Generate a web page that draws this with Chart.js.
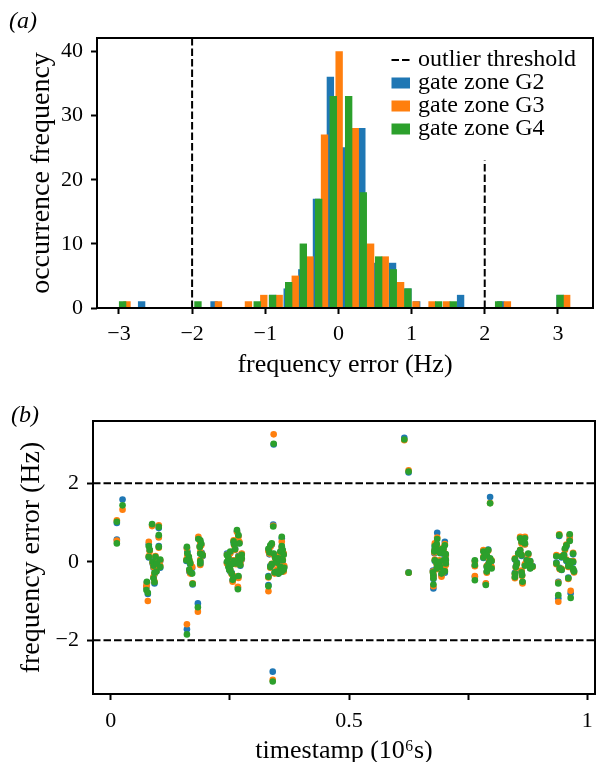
<!DOCTYPE html>
<html>
<head>
<meta charset="utf-8">
<title>Frequency error per gate zone</title>
<script src="https://cdn.jsdelivr.net/npm/chart.js@4.4.1/dist/chart.umd.min.js"></script>
<style>
  html, body { margin: 0; padding: 0; background: #fff; }
  canvas { display: block; }
</style>
</head>
<body>
<canvas id="histChart" width="596" height="380"></canvas>
<canvas id="timeChart" width="596" height="382"></canvas>
<script>
// (a) histogram: bar centre (Hz) and count for each gate zone
const histG2Hz    = [-2.69, -1.70, -0.90, -0.70, -0.50, -0.30, -0.11, 0.10, 0.32, 0.53, 0.74, 0.95, 1.07, 1.67, 2.22, 3.03];
const histG2Count = [1, 1, 2, 3, 6, 17, 36, 25, 28, 7, 7, 3, 1, 2, 1, 2];
const histG3Hz    = [-2.89, -1.64, -1.23, -1.02, -0.81, -0.59, -0.39, -0.19, 0.01, 0.23, 0.44, 0.64, 0.85, 1.06, 1.28, 1.48, 2.31, 3.12];
const histG3Count = [1, 1, 1, 2, 2, 5, 8, 27, 40, 28, 10, 8, 4, 1, 1, 1, 1, 2];
const histG4Hz    = [-2.95, -1.92, -1.11, -0.90, -0.68, -0.48, -0.27, -0.07, 0.14, 0.34, 0.55, 0.75, 0.95, 1.37, 1.57, 2.19, 3.03];
const histG4Count = [1, 1, 1, 2, 4, 10, 17, 33, 33, 18, 8, 6, 3, 1, 1, 1, 2];

const thresholdHz = [-2, 2];
const thresholdReach = [45, 23];   // how high each threshold line goes in (a)
const histTicksX = [-3, -2, -1, 0, 1, 2, 3];
const histTicksY = [0, 10, 20, 30, 40];

// (b) frequency error against timestamp (10^6 s), one value per gate zone
const stamps = [
  0.013, 0.013, 0.025,
  0.076, 0.075, 0.078, 0.080, 0.082, 0.080, 0.087, 0.088, 0.090, 0.090, 0.092, 0.092, 0.094, 0.096, 0.097, 0.101, 0.101, 0.101, 0.104, 0.104,
  0.160, 0.161, 0.164, 0.159, 0.165, 0.167, 0.165, 0.167, 0.171, 0.172, 0.160, 0.183, 0.184, 0.188, 0.187, 0.190, 0.188, 0.191, 0.193, 0.188, 0.188,
  0.244, 0.247, 0.251, 0.244, 0.247, 0.249, 0.251, 0.254, 0.256, 0.258, 0.258, 0.259, 0.261, 0.263, 0.265, 0.268, 0.270, 0.268, 0.272, 0.275, 0.275, 0.272, 0.268, 0.267, 0.258, 0.254,
  0.342, 0.340, 0.341, 0.331, 0.335, 0.338, 0.333, 0.331, 0.331, 0.335, 0.338, 0.342, 0.345, 0.344, 0.349, 0.347, 0.349, 0.352, 0.356, 0.356, 0.359, 0.359, 0.361, 0.363, 0.361, 0.363, 0.364, 0.359, 0.352,
  0.616, 0.625, 0.625,
  0.685, 0.701, 0.680, 0.684, 0.680, 0.679, 0.687, 0.691, 0.694, 0.698, 0.700, 0.703, 0.680, 0.684, 0.690, 0.691, 0.698, 0.703, 0.703, 0.701, 0.698, 0.694, 0.676, 0.677, 0.677, 0.677, 0.684,
  0.796, 0.764, 0.764, 0.764, 0.782, 0.785, 0.792, 0.782, 0.789, 0.796, 0.794, 0.792, 0.789, 0.799, 0.799, 0.789, 0.787,
  0.859, 0.869, 0.862, 0.869, 0.859, 0.855, 0.862, 0.848, 0.852, 0.850, 0.848, 0.848, 0.862, 0.863, 0.864, 0.876, 0.880, 0.876, 0.880, 0.885, 0.873, 0.869,
  0.941, 0.963, 0.963, 0.956, 0.953, 0.935, 0.946, 0.951, 0.956, 0.963, 0.970, 0.970, 0.935, 0.942, 0.946, 0.960, 0.963, 0.970, 0.972, 0.960, 0.939, 0.939, 0.965
];
const errG2 = [
  0.99, 0.57, 1.59,
  -0.53, -0.64, -0.82, 0.45, 0.30, 0.11, 0.94, -0.04, -0.15, -0.40, -0.55, -0.32, 0.10, -0.24, -0.05, 0.86, 0.64, 0.40, 0.02, -0.15,
  0.36, 0.26, 0.10, 0.02, 0.00, -0.06, -0.25, -0.28, -0.16, -0.58, -1.72, -1.06, 0.60, 0.52, 0.40, 0.44, 0.21, 0.23, 0.15, 0.00, -0.06,
  0.21, 0.12, 0.24, -0.02, -0.10, -0.20, -0.25, -0.28, -0.48, -0.38, 0.50, 0.44, 0.34, -0.02, 0.78, 0.66, 0.48, 0.15, 0.02, 0.20, 0.06, -0.10, -0.38, -0.66, 0.04, -0.04,
  2.99, -2.80, 0.95, 0.30, 0.40, 0.44, 0.19, -0.59, -0.36, -0.10, -0.08, 0.20, 0.13, -0.28, -0.22, 0.02, -0.02, 0.09, 0.24, -0.10, 0.60, 0.38, 0.28, 0.20, 0.02, -0.22, -0.13, -0.25, -0.30,
  3.16, 2.28, -0.27,
  0.74, 0.51, 0.42, 0.40, 0.34, 0.22, 0.28, 0.24, 0.30, 0.32, 0.18, 0.16, 0.02, -0.02, 0.02, -0.10, 0.00, 0.02, -0.06, -0.28, -0.22, -0.34, -0.22, -0.36, -0.44, -0.68, -0.15,
  1.65, 0.02, -0.10, -0.38, 0.28, 0.18, 0.31, 0.10, 0.15, 0.07, -0.02, -0.06, -0.13, -0.15, 0.02, -0.26, -0.56,
  0.62, 0.62, 0.49, 0.45, 0.28, 0.22, 0.15, 0.06, -0.02, -0.12, -0.28, -0.40, -0.25, -0.33, -0.52, 0.20, 0.02, -0.03, -0.16, -0.11, 0.06, -0.08,
  0.66, 0.66, 0.55, 0.40, 0.32, 0.15, 0.11, 0.18, 0.02, -0.02, 0.19, -0.02, -0.02, -0.15, -0.21, -0.10, -0.06, -0.21, -0.23, -0.40, -0.51, -0.93, -0.80
];
const errG3 = [
  1.06, 0.54, 1.33,
  -0.55, -0.62, -1.00, 0.51, 0.27, 0.15, 0.91, -0.02, -0.13, -0.38, -0.50, -0.30, 0.15, -0.20, -0.02, 0.93, 0.62, 0.36, 0.04, -0.10,
  0.34, 0.17, 0.12, 0.06, 0.05, -0.02, -0.22, -0.30, -0.13, -0.55, -1.59, -1.27, 0.64, 0.50, 0.38, 0.42, 0.25, 0.20, 0.17, 0.05, -0.08,
  0.18, 0.13, 0.22, -0.04, -0.08, -0.18, -0.22, -0.32, -0.51, -0.36, 0.55, 0.42, 0.30, -0.06, 0.76, 0.64, 0.51, 0.13, 0.00, 0.21, 0.08, -0.06, -0.41, -0.64, 0.04, -0.02,
  3.25, -3.01, 0.92, 0.27, 0.38, 0.45, 0.21, -0.75, -0.40, -0.15, -0.05, 0.18, 0.10, -0.30, -0.20, 0.00, -0.04, 0.12, 0.22, -0.12, 0.51, 0.36, 0.26, 0.21, 0.06, -0.25, -0.10, -0.22, -0.28,
  3.10, 2.33, -0.28,
  0.62, 0.45, 0.47, 0.44, 0.30, 0.24, 0.26, 0.26, 0.34, 0.30, 0.22, 0.18, 0.06, -0.06, 0.04, -0.15, 0.02, 0.04, -0.08, -0.22, -0.26, -0.38, -0.25, -0.32, -0.40, -0.62, -0.19,
  1.50, 0.00, -0.11, -0.36, 0.30, 0.20, 0.28, 0.13, 0.14, 0.06, 0.00, -0.08, -0.10, -0.13, 0.04, -0.28, -0.55,
  0.64, 0.64, 0.47, 0.44, 0.30, 0.20, 0.18, 0.09, -0.06, -0.15, -0.32, -0.42, -0.22, -0.36, -0.55, 0.18, 0.00, -0.06, -0.14, -0.13, 0.04, -0.06,
  0.70, 0.68, 0.57, 0.44, 0.30, 0.17, 0.15, 0.15, 0.06, 0.00, 0.23, 0.02, -0.06, -0.19, -0.18, -0.13, -0.10, -0.19, -0.27, -0.44, -0.53, -1.02, -0.74
];
const errG4 = [
  1.02, 0.47, 1.44,
  -0.51, -0.72, -0.79, 0.40, 0.30, 0.13, 0.96, 0.00, -0.10, -0.42, -0.52, -0.28, 0.13, -0.25, -0.04, 0.89, 0.68, 0.38, 0.06, -0.13,
  0.38, 0.22, 0.13, 0.04, 0.04, -0.04, -0.20, -0.26, -0.30, -0.56, -1.85, -1.16, 0.58, 0.55, 0.38, 0.46, 0.21, 0.19, 0.17, 0.02, -0.04,
  0.17, 0.10, 0.26, 0.00, -0.13, -0.21, -0.20, -0.30, -0.46, -0.40, 0.52, 0.45, 0.32, -0.04, 0.81, 0.68, 0.47, 0.12, 0.04, 0.18, 0.09, -0.08, -0.36, -0.70, 0.02, -0.06,
  3.01, -3.05, 0.90, 0.33, 0.42, 0.47, 0.24, -0.62, -0.38, -0.13, -0.06, 0.21, 0.11, -0.27, -0.25, 0.04, -0.02, 0.09, 0.26, -0.13, 0.64, 0.40, 0.30, 0.18, 0.04, -0.20, -0.15, -0.25, -0.30,
  3.12, 2.30, -0.28,
  0.58, 0.42, 0.40, 0.45, 0.31, 0.26, 0.30, 0.22, 0.32, 0.34, 0.21, 0.20, 0.04, -0.04, 0.00, -0.13, 0.04, 0.06, -0.04, -0.24, -0.25, -0.30, -0.27, -0.34, -0.42, -0.58, -0.17,
  1.49, 0.04, -0.08, -0.47, 0.26, 0.21, 0.30, 0.11, 0.17, 0.09, -0.02, -0.10, -0.12, -0.17, 0.02, -0.25, -0.59,
  0.60, 0.60, 0.51, 0.47, 0.30, 0.21, 0.17, 0.07, -0.04, -0.13, -0.30, -0.39, -0.27, -0.34, -0.51, 0.21, 0.01, -0.04, -0.17, -0.12, 0.04, -0.10,
  0.68, 0.70, 0.53, 0.42, 0.34, 0.14, 0.13, 0.17, 0.04, 0.01, 0.21, 0.00, -0.04, -0.17, -0.20, -0.11, -0.08, -0.18, -0.25, -0.42, -0.55, -0.85, -0.92
];
const timeTicksX = [0, 0.25, 0.5, 0.75, 1];
const timeTickLabels = ['0', '', '0.5', '', '1'];
const timeTicksY = [-2, 0, 2];

const zoneNames = ['gate zone G2', 'gate zone G3', 'gate zone G4'];
const zoneColors = ['#1f77b4', '#ff7f0e', '#2ca02c'];

const SERIF = "'Liberation Serif', serif";
Chart.defaults.font.family = SERIF;
Chart.defaults.font.size = 22;
Chart.defaults.color = '#000';

const minus = v => (v < 0 ? '\u2212' + Math.abs(v) : String(v));
const pinTicks = values => scale => { scale.ticks = values.map(value => ({ value })); };
const DASH = [7.5, 3];

// black box round the plot area, like matplotlib spines
const framePlugin = {
  id: 'frame',
  afterDraw(chart) {
    const { ctx, chartArea: a } = chart;
    ctx.save();
    ctx.strokeStyle = '#000';
    ctx.lineWidth = 2;
    ctx.strokeRect(a.left, a.top, a.right - a.left, a.bottom - a.top);
    ctx.restore();
  }
};

const panelLabelPlugin = {
  id: 'panelLabel',
  afterDraw(chart, args, opts) {
    const ctx = chart.ctx;
    ctx.save();
    ctx.font = 'italic 24px ' + SERIF;
    ctx.fillStyle = '#000';
    ctx.textBaseline = 'alphabetic';
    ctx.fillText(opts.text, opts.x, opts.y);
    ctx.restore();
  }
};

// legend drawn inside the top right of the plot
const insideLegendPlugin = {
  id: 'insideLegend',
  afterDraw(chart, args, opts) {
    if (!opts.items) return;
    const { ctx, chartArea: a } = chart;
    const x = a.right - opts.right;
    ctx.save();
    ctx.font = '24px ' + SERIF;
    ctx.textBaseline = 'middle';
    opts.items.forEach((item, i) => {
      const y = a.top + opts.top + i * opts.rowGap;
      if (item.dashed) {
        ctx.strokeStyle = item.color;
        ctx.lineWidth = 2;
        ctx.setLineDash(DASH);
        ctx.beginPath();
        ctx.moveTo(x, y);
        ctx.lineTo(x + opts.handle, y);
        ctx.stroke();
        ctx.setLineDash([]);
      } else {
        ctx.fillStyle = item.color;
        ctx.fillRect(x, y - 5.5, opts.handle, 11);
      }
      ctx.fillStyle = '#000';
      ctx.fillText(item.label, x + opts.handle + 8, y);
    });
    ctx.restore();
  }
};

const tickGrid = {
  display: true, drawOnChartArea: false, drawTicks: true,
  tickLength: 6, tickWidth: 2, tickColor: '#000', offset: false
};

// keep the edge tick labels from shrinking the plot area
const fixHeight = h => s => { s.height = h; s.paddingLeft = 0; s.paddingRight = 0; };
const fixWidth = w => s => { s.width = w; s.paddingTop = 0; s.paddingBottom = 0; };

// ---------- (a) histogram ----------
const hists = [
  { hz: histG2Hz, count: histG2Count },
  { hz: histG3Hz, count: histG3Count },
  { hz: histG4Hz, count: histG4Count }
];

new Chart(document.getElementById('histChart'), {
  type: 'bar',
  data: {
    datasets: [
      ...thresholdHz.map((hz, i) => ({
        type: 'line',
        label: 'outlier threshold',
        data: [{ x: hz, y: 0 }, { x: hz, y: thresholdReach[i] }],
        borderColor: '#000',
        borderWidth: 2,
        borderDash: DASH,
        pointRadius: 0,
        order: 0
      })),
      ...hists.map((h, k) => ({
        label: zoneNames[k],
        data: h.hz.map((x, i) => ({ x, y: h.count[i] })),
        backgroundColor: zoneColors[k],
        barThickness: 6.7,
        order: 3 - k
      }))
    ]
  },
  options: {
    responsive: false,
    animation: false,
    events: [],
    devicePixelRatio: 1,
    layout: { autoPadding: false, padding: { left: 0, right: 3, top: 38, bottom: 0 } },
    datasets: { bar: { grouped: false } },
    plugins: {
      legend: { display: false },
      tooltip: { enabled: false },
      panelLabel: { text: '(a)', x: 9, y: 28 },
      insideLegend: {
        right: 201.5, top: 22, rowGap: 23, handle: 18.5,
        items: [
          { label: 'outlier threshold', color: '#000', dashed: true },
          ...zoneNames.map((label, k) => ({ label, color: zoneColors[k] }))
        ]
      }
    },
    scales: {
      x: {
        type: 'linear',
        min: -3.30, max: 3.48,
        offset: false,
        grid: tickGrid,
        border: { display: false },
        afterBuildTicks: pinTicks(histTicksX),
        afterFit: fixHeight(72),
        ticks: { padding: 7, maxRotation: 0, autoSkip: false, callback: minus },
        title: { display: true, text: 'frequency error (Hz)', font: { size: 26 }, padding: { top: 0, bottom: -0.6 } }
      },
      y: {
        min: 0, max: 42.1,
        grid: tickGrid,
        border: { display: false },
        afterBuildTicks: pinTicks(histTicksY),
        afterFit: fixWidth(97),
        ticks: { padding: 8, callback: minus },
        title: { display: true, text: 'occurrence frequency', font: { size: 28 }, padding: { top: 25.2, bottom: 0 } }
      }
    }
  },
  plugins: [framePlugin, panelLabelPlugin, insideLegendPlugin]
});

// ---------- (b) error against timestamp ----------
const timeMin = -0.037, timeMax = 1.016;

new Chart(document.getElementById('timeChart'), {
  type: 'scatter',
  data: {
    datasets: [
      ...thresholdHz.map(hz => ({
        label: 'outlier threshold',
        data: [{ x: timeMin, y: hz }, { x: timeMax, y: hz }],
        showLine: true,
        borderColor: '#000',
        borderWidth: 2,
        borderDash: DASH,
        pointRadius: 0,
        order: 4
      })),
      ...[errG2, errG3, errG4].map((errs, k) => ({
        label: zoneNames[k],
        data: stamps.map((t, i) => ({ x: t, y: errs[i] })),
        pointBackgroundColor: zoneColors[k],
        pointBorderWidth: 0,
        pointRadius: 3.3,
        order: 3 - k
      }))
    ]
  },
  options: {
    responsive: false,
    animation: false,
    events: [],
    devicePixelRatio: 1,
    layout: { autoPadding: false, padding: { left: 0, right: 1, top: 41, bottom: 0 } },
    plugins: {
      legend: { display: false },
      tooltip: { enabled: false },
      panelLabel: { text: '(b)', x: 11, y: 42 }
    },
    scales: {
      x: {
        type: 'linear',
        min: timeMin, max: timeMax,
        grid: tickGrid,
        border: { display: false },
        afterBuildTicks: pinTicks(timeTicksX),
        afterFit: fixHeight(68),
        ticks: { padding: 7.6, maxRotation: 0, autoSkip: false, callback: (v, i) => timeTickLabels[i] },
        title: { display: true, text: 'timestamp (10\u2076s)', font: { size: 26 }, padding: { top: 0, bottom: -4.5 } }
      },
      y: {
        min: -3.37, max: 3.59,
        grid: tickGrid,
        border: { display: false },
        afterBuildTicks: pinTicks(timeTicksY),
        afterFit: fixWidth(93),
        ticks: { padding: 8, callback: minus },
        title: { display: true, text: 'frequency error (Hz)', font: { size: 28 }, padding: { top: 14.4, bottom: 0 } }
      }
    }
  },
  plugins: [framePlugin, panelLabelPlugin]
});
</script>
</body>
</html>
